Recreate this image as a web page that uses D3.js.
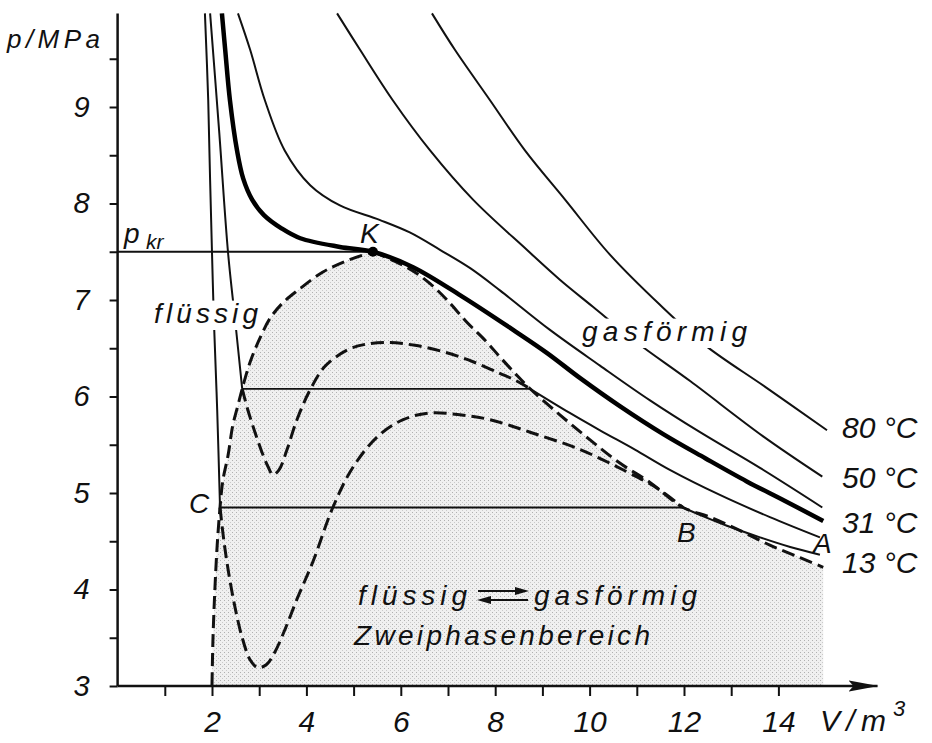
<!DOCTYPE html>
<html><head><meta charset="utf-8">
<script src="https://cdn.jsdelivr.net/npm/d3@7"></script>
<style>
html,body{margin:0;padding:0;background:#fff;}
svg{display:block;}
text{font-family:"Liberation Sans","DejaVu Sans",sans-serif;font-style:italic;fill:#111;}
</style></head><body>
<svg id="chart" width="932" height="743"></svg>
<script>
// ---------- data (V in m^3, p in MPa) ----------
const xTicks = [1,2,3,4,5,6,7,8,9,10,11,12,13,14];
const xTickLabels = [2,4,6,8,10,12,14];
const yTicks = [3,3.5,4,4.5,5,5.5,6,6.5,7,7.5,8,8.5,9,9.5];
const yTickLabels = [3,4,5,6,7,8,9];

const iso80 = [[6.66,9.97],[7.15,9.59],[7.89,9.07],[8.63,8.55],[9.48,8.04],[10.43,7.47],[11.49,6.95],[12.45,6.53],[13.72,6.10],[15.03,5.65]];
const iso50 = [[4.65,9.97],[5.14,9.59],[5.83,9.07],[6.62,8.55],[7.53,8.04],[8.67,7.52],[9.37,7.21],[10.07,6.93],[11.00,6.56],[12.13,6.16],[13.67,5.59],[14.93,5.17]];
const iso40 = [[2.55,9.97],[2.81,9.59],[3.12,9.07],[3.54,8.55],[4.08,8.19],[4.71,7.98],[5.55,7.83],[6.19,7.70],[6.83,7.52],[7.47,7.33],[8.10,7.10],[9.16,6.69],[10.22,6.32],[11.28,5.96],[12.34,5.63],[13.61,5.26],[14.93,4.85]];
const iso31 = [[2.21,9.97],[2.28,9.59],[2.38,9.07],[2.53,8.55],[2.66,8.26],[2.85,8.04],[3.10,7.88],[3.48,7.74],[3.87,7.64],[4.71,7.55],[5.41,7.50],[6.26,7.34],[7.32,7.03],[8.38,6.69],[9.10,6.45],[9.80,6.19],[10.64,5.90],[11.56,5.61],[12.45,5.36],[13.33,5.12],[14.13,4.92],[14.95,4.71]];
const iso21Liquid = [[1.96,9.97],[2.15,8.76],[2.34,7.49],[2.49,6.79],[2.64,6.08]];
const iso21Gas = [[8.74,6.08],[9.58,5.83],[10.22,5.65],[10.96,5.45],[11.70,5.24],[12.76,4.98],[13.82,4.75],[14.88,4.54]];
const iso13Liquid = [[1.85,9.97],[1.92,9.07],[1.96,8.24],[2.00,7.49],[2.04,6.79],[2.11,5.86],[2.17,4.85]];
const iso13Gas = [[11.98,4.85],[12.45,4.75],[12.91,4.66],[13.61,4.54],[14.25,4.44],[14.88,4.36]];
const domeLeft = [[2.00,3.01],[2.02,3.48],[2.06,3.99],[2.11,4.46],[2.17,4.85],[2.23,5.13],[2.34,5.39],[2.44,5.70],[2.55,5.91],[2.64,6.08],[2.81,6.36],[3.03,6.62],[3.23,6.81],[3.50,6.97],[3.87,7.12],[4.35,7.29],[4.82,7.40],[5.41,7.50]];
const domeRight = [[5.41,7.50],[5.88,7.40],[6.26,7.30],[6.62,7.17],[6.98,7.00],[7.40,6.77],[7.79,6.58],[8.10,6.41],[8.42,6.24],[8.74,6.08],[9.37,5.81],[10.01,5.55],[10.64,5.31],[11.28,5.11],[11.98,4.85],[12.55,4.75],[13.19,4.61],[13.82,4.46],[14.46,4.33],[14.95,4.23]];
const loop21 = [[2.64,6.08],[2.76,5.86],[2.91,5.63],[3.06,5.42],[3.19,5.27],[3.29,5.19],[3.42,5.24],[3.59,5.45],[3.80,5.76],[4.08,6.07],[4.39,6.31],[4.86,6.48],[5.24,6.54],[5.73,6.56],[6.30,6.53],[6.93,6.46],[7.53,6.36],[8.10,6.24],[8.42,6.17],[8.74,6.08]];
const loop13 = [[2.17,4.85],[2.25,4.51],[2.36,4.15],[2.49,3.81],[2.64,3.50],[2.81,3.27],[2.97,3.19],[3.15,3.22],[3.33,3.35],[3.55,3.59],[3.80,3.90],[4.14,4.29],[4.56,4.85],[4.99,5.27],[5.52,5.59],[6.05,5.76],[6.62,5.83],[7.25,5.81],[7.89,5.76],[8.74,5.63],[9.80,5.45],[10.79,5.22],[11.43,5.05],[11.98,4.85]];
const criticalPoint = [5.41, 7.50];
const isoLabels = ["80 °C","50 °C","31 °C","13 °C"];

// ---------- chart ----------
const svg = d3.select('#chart');
const x = d3.scaleLinear().domain([0,14]).range([117.6, 778.4]);
const y = d3.scaleLinear().domain([3,9]).range([686, 107]);
const line = d3.line().x(d=>x(d[0])).y(d=>y(d[1])).curve(d3.curveCatmullRom.alpha(0.5));

const defs = svg.append('defs');
const pat = defs.append('pattern').attr('id','stipple').attr('patternUnits','userSpaceOnUse').attr('width',4).attr('height',4);
pat.append('rect').attr('width',4).attr('height',4).attr('fill','#f0f0f0');
pat.append('rect').attr('x',0).attr('y',0).attr('width',1).attr('height',1).attr('fill','#b0b0b0');
pat.append('rect').attr('x',2).attr('y',2).attr('width',1).attr('height',1).attr('fill','#cacaca');
defs.append('marker').attr('id','arrow').attr('markerUnits','userSpaceOnUse')
  .attr('markerWidth',30).attr('markerHeight',14).attr('refX',29).attr('refY',7).attr('orient','auto')
  .append('path').attr('d','M0,1.5 L30,7 L0,12.5 L5,7 Z').attr('fill','#111');

// two-phase region shading
const domeAll = domeLeft.concat(domeRight.slice(1));
const last = domeRight[domeRight.length-1];
svg.append('path')
  .attr('d', line(domeAll) + `L${x(last[0])},${y(3)}L${x(domeLeft[0][0])},${y(3)}Z`)
  .attr('fill','url(#stipple)').attr('stroke','none');

// axes
const gx = svg.append('g').attr('transform',`translate(0,${y(3)})`)
  .call(d3.axisBottom(x).tickValues(xTicks).tickSize(10).tickPadding(15)
        .tickFormat(v => xTickLabels.includes(v) ? String(v) : ''));
gx.select('.domain').remove();
gx.selectAll('.tick line').attr('stroke','#111').attr('stroke-width',2);
gx.selectAll('.tick text').attr('font-family',null).attr('font-size',30).attr('fill','#111');
gx.attr('font-family',null).attr('font-size',null);
svg.append('line').attr('x1',x(0)).attr('x2',x(16.1)).attr('y1',y(3)).attr('y2',y(3))
  .attr('stroke','#111').attr('stroke-width',2.5).attr('marker-end','url(#arrow)');

const gy = svg.append('g').attr('transform',`translate(${x(0)},0)`)
  .call(d3.axisLeft(y).tickValues(yTicks).tickSize(8).tickPadding(20)
        .tickFormat(v => yTickLabels.includes(v) ? String(v) : ''));
gy.select('.domain').remove();
gy.selectAll('.tick line').attr('stroke','#111').attr('stroke-width',2);
gy.selectAll('.tick text').attr('font-family',null).attr('font-size',29).attr('fill','#111');
gy.attr('font-family',null).attr('font-size',null);
svg.append('line').attr('x1',x(0)).attr('x2',x(0)).attr('y1',y(3)).attr('y2',y(9.97))
  .attr('stroke','#111').attr('stroke-width',2.5);

// horizontal lines
function hline(v1, v2, p, w){
  svg.append('line').attr('x1',x(v1)).attr('x2',x(v2)).attr('y1',y(p)).attr('y2',y(p))
    .attr('stroke','#111').attr('stroke-width',w);
}
hline(0, criticalPoint[0], criticalPoint[1], 1.8);
hline(iso21Liquid[iso21Liquid.length-1][0], iso21Gas[0][0], iso21Gas[0][1], 1.8);
hline(iso13Liquid[iso13Liquid.length-1][0], iso13Gas[0][0], iso13Gas[0][1], 1.8);

// dashed curves
[domeLeft, domeRight, loop21, loop13].forEach(d => {
  svg.append('path').attr('d', line(d)).attr('fill','none').attr('stroke','#111')
    .attr('stroke-width',3).attr('stroke-dasharray','13,6');
});

// solid isotherms
[iso80, iso50, iso40, iso21Liquid, iso21Gas, iso13Liquid, iso13Gas].forEach(d => {
  svg.append('path').attr('d', line(d)).attr('fill','none').attr('stroke','#111').attr('stroke-width',2);
});
svg.append('path').attr('d', line(iso31)).attr('fill','none').attr('stroke','#000').attr('stroke-width',4.5);

// critical point
svg.append('circle').attr('cx',x(criticalPoint[0])).attr('cy',y(criticalPoint[1])).attr('r',5).attr('fill','#000');

// labels
function label(t, px, py, size, len, bg){
  if (bg) svg.append('rect').attr('x',px-3).attr('y',py-size*0.8).attr('width',(len||size*t.length*0.5)+4)
      .attr('height',size*1.05).attr('fill','#fff');
  const el = svg.append('text').attr('x',px).attr('y',py).attr('font-size',size).text(t);
  if (len) el.attr('textLength',len).attr('lengthAdjust','spacing');
  return el;
}
label('p/MPa', 7, 48, 26, 93);
label('p', 124, 243, 28);
label('kr', 146, 249, 21);
label('K', 360, 243, 28);
label('flüssig', 154, 323, 28, 104, true);
label('gasförmig', 582, 341, 28, 165, true);
isoLabels.forEach((t,i) => label(t, 842, [438,488,533,573][i], 30));
label('A', 813, 553, 28);
label('B', 677, 542, 28);
label('C', 189, 513, 28);
label('flüssig', 358, 605, 28, 109);
label('gasförmig', 534, 605, 28, 163);
label('Zweiphasenbereich', 354, 645, 28, 296);
label('V/m', 820, 731, 30, 66);
label('3', 893, 716, 22);

// exchange arrows
svg.append('line').attr('x1',478).attr('x2',518).attr('y1',591).attr('y2',591).attr('stroke','#111').attr('stroke-width',2);
svg.append('path').attr('d','M529,591 L515,587 L515,595 Z').attr('fill','#111');
svg.append('line').attr('x1',489).attr('x2',528).attr('y1',600).attr('y2',600).attr('stroke','#111').attr('stroke-width',2);
svg.append('path').attr('d','M477,600 L491,596 L491,604 Z').attr('fill','#111');
</script>
</body></html>
